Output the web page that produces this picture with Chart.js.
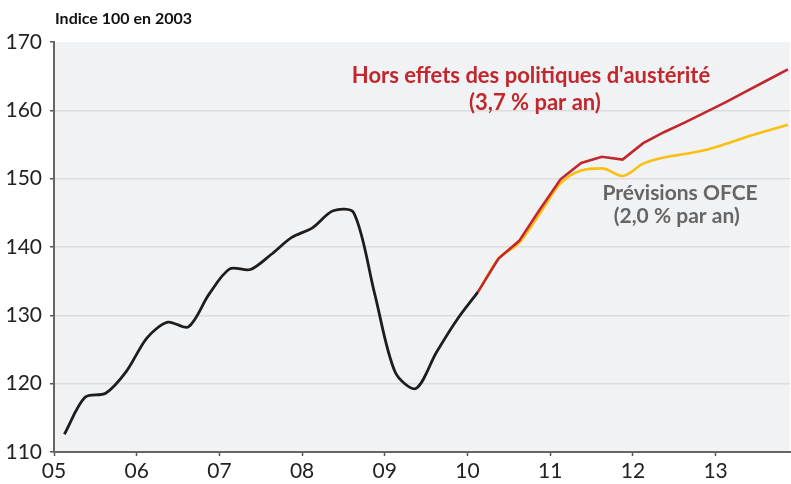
<!DOCTYPE html>
<html>
<head>
<meta charset="utf-8">
<script src="https://cdn.jsdelivr.net/npm/chart.js@4/dist/chart.umd.min.js"></script>
<style>
html,body{margin:0;padding:0;background:#fff;}
#wrap{width:791px;height:484px;position:relative;}
</style>
</head>
<body>
<div id="wrap"><canvas id="c" width="791" height="484"></canvas></div>
<script>
// Quarterly positions (decimal years, mid-quarter)
const histQuarters = [2005.125,2005.375,2005.625,2005.875,2006.125,2006.375,2006.625,2006.875,
  2007.125,2007.375,2007.625,2007.875,2008.125,2008.375,2008.625,2008.875,
  2009.125,2009.375,2009.625,2009.875,2010.125];
const histValues = [112.6,118.0,118.6,121.8,126.7,129.0,128.3,133.1,
  136.8,136.7,138.9,141.4,142.8,145.3,145.0,133.3,
  121.7,119.3,124.6,129.4,133.4];

const forecastQuarters = [2010.125,2010.375,2010.625,2010.875,2011.125,2011.375,2011.625,2011.875,
  2012.125,2012.375,2012.625,2012.875,2013.125,2013.375,2013.625,2013.875];
const noAusterityValues = [133.4,138.3,140.9,145.5,149.9,152.3,153.2,152.8,
  155.2,156.8,158.2,159.7,161.2,162.8,164.4,166.0];
const ofceValues = [133.4,138.3,140.6,144.9,149.3,151.2,151.5,150.4,
  152.2,153.1,153.6,154.2,155.1,156.1,157.0,157.9];

const yearTicks = [2005,2006,2007,2008,2009,2010,2011,2012,2013];
const yearLabels = ['05','06','07','08','09','10','11','12','13'];

const toPts = (xs, ys) => xs.map((x,i)=>({x:x, y:ys[i]}));

const bgPlugin = {
  id:'bg',
  beforeDraw(chart){
    const {ctx, chartArea:a} = chart;
    ctx.save();
    ctx.fillStyle = '#f1f2f4';
    ctx.fillRect(a.left, a.top, a.right-a.left, a.bottom-a.top);
    ctx.restore();
  }
};

const textPlugin = {
  id:'texts',
  afterDraw(chart){
    const ctx = chart.ctx;
    const xs = chart.scales.x, ys = chart.scales.y;
    ctx.save();
    ctx.textBaseline = 'alphabetic';
    ctx.fillStyle = '#111';
    ctx.font = 'bold 16px Lato';
    ctx.textAlign = 'left';
    ctx.fillText('Indice 100 en 2003', 55, 24);
    ctx.textAlign = 'center';
    ctx.fillStyle = '#c1272d';
    ctx.font = 'bold 22px Lato';
    ctx.fillText("Hors effets des politiques d'austérité", xs.getPixelForValue(2010.768), ys.getPixelForValue(164.0));
    ctx.fillText('(3,7 % par an)', xs.getPixelForValue(2010.816), ys.getPixelForValue(160.05));
    ctx.fillStyle = '#666666';
    ctx.font = 'bold 21px Lato';
    ctx.fillText('Prévisions OFCE', xs.getPixelForValue(2012.57), ys.getPixelForValue(146.88));
    ctx.fillText('(2,0 % par an)', xs.getPixelForValue(2012.53), ys.getPixelForValue(143.51));
    ctx.restore();
  }
};

new Chart(document.getElementById('c'), {
  type:'line',
  data:{
    datasets:[
      {data: toPts(forecastQuarters, ofceValues), borderColor:'#fbbf10', borderWidth:2.6, pointRadius:0, cubicInterpolationMode:'monotone', order:3},
      {data: toPts(forecastQuarters, noAusterityValues), borderColor:'#c1272d', borderWidth:2.6, pointRadius:0, tension:0, order:2},
      {data: toPts(histQuarters, histValues), borderColor:'#1d1d1d', borderWidth:2.8, pointRadius:0, tension:0.3, order:1}
    ]
  },
  plugins:[bgPlugin, textPlugin],
  options:{
    responsive:false,
    animation:false,
    events:[],
    layout:{padding:{top:42, right:1, left:0, bottom:0}},
    plugins:{legend:{display:false}, tooltip:{enabled:false}},
    scales:{
      x:{
        type:'linear', min:2005, max:2013.9,
        afterBuildTicks(scale){ scale.ticks = yearTicks.map(v=>({value:v})); },
        afterFit(scale){ scale.height = 32; },
        ticks:{
          callback:(v)=>{ const i = yearTicks.indexOf(v); return i>=0 ? yearLabels[i] : ''; },
          font:{family:'Lato', size:21}, color:'#222', padding:3, maxRotation:0, autoSkip:false
        },
        grid:{drawOnChartArea:false, drawTicks:true, tickLength:4, tickColor:'#555', tickWidth:1.5},
        border:{color:'#666', width:2}
      },
      y:{
        min:110, max:170,
        ticks:{stepSize:10, font:{family:'Lato', size:21}, color:'#222', padding:8},
        afterFit(scale){ scale.width = 54; },
        grid:{
          color:(c)=> (c.tick && (c.tick.value===110 || c.tick.value===170)) ? 'rgba(0,0,0,0)' : '#dcdde0',
          lineWidth:1.5, tickLength:4, tickColor:'#555', tickWidth:1.5
        },
        border:{color:'#666', width:2}
      }
    }
  }
});
</script>
</body>
</html>
